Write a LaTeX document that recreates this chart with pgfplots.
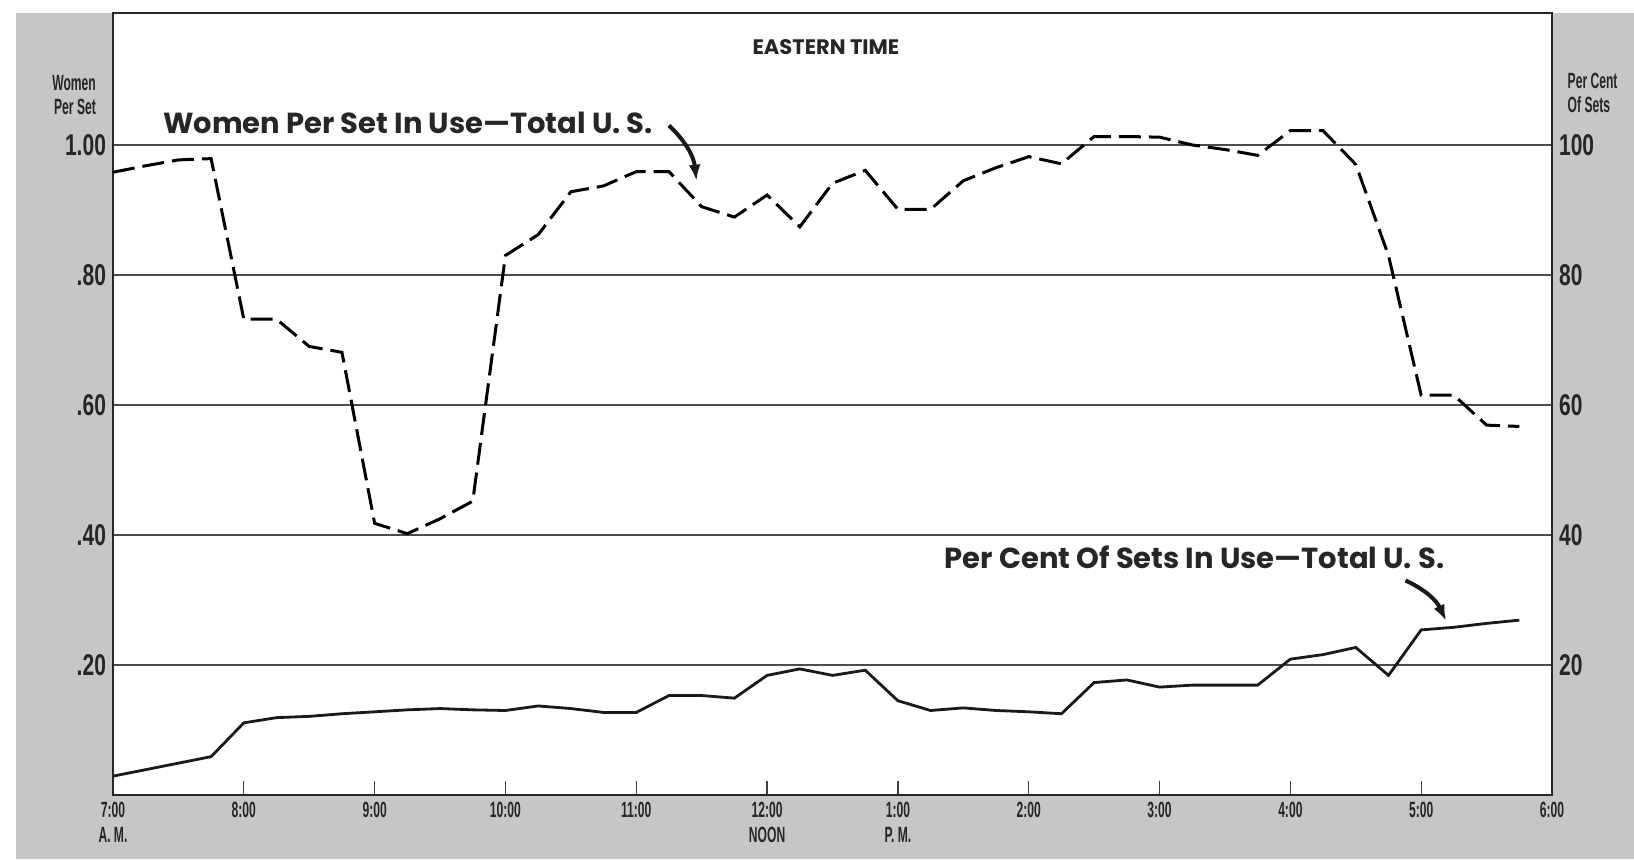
\documentclass[border=0pt]{standalone}
\usepackage{fontspec}
\setmainfont{Poppins}
\newfontfamily\tickfont[FakeStretch=0.7]{Liberation Sans}
\newfontfamily\narrowfont[FakeStretch=0.55]{Liberation Sans}
\usepackage{pgfplots}
\pgfplotsset{compat=1.18}
\usetikzlibrary{arrows.meta}

\pgfplotstableread{
t v
7.00 0.958
7.25 0.968
7.50 0.977
7.75 0.979
8.00 0.732
8.25 0.732
8.50 0.690
8.75 0.681
9.00 0.418
9.25 0.402
9.50 0.425
9.75 0.452
10.00 0.830
10.25 0.862
10.50 0.928
10.75 0.937
11.00 0.959
11.25 0.959
11.50 0.905
11.75 0.889
12.00 0.923
12.25 0.874
12.50 0.941
12.75 0.961
13.00 0.901
13.25 0.901
13.50 0.945
13.75 0.965
14.00 0.982
14.25 0.971
14.50 1.013
14.75 1.013
15.00 1.012
15.25 1.000
15.50 0.993
15.75 0.984
16.00 1.022
16.25 1.022
16.50 0.970
16.75 0.830
17.00 0.615
17.25 0.615
17.50 0.569
17.75 0.567
}\women

\pgfplotstableread{
t p
7.00 2.9
7.25 3.9
7.50 4.9
7.75 5.9
8.00 11.1
8.25 11.9
8.50 12.1
8.75 12.5
9.00 12.8
9.25 13.1
9.50 13.3
9.75 13.1
10.00 13.0
10.25 13.7
10.50 13.3
10.75 12.7
11.00 12.7
11.25 15.3
11.50 15.3
11.75 14.9
12.00 18.4
12.25 19.4
12.50 18.4
12.75 19.2
13.00 14.5
13.25 13.0
13.50 13.4
13.75 13.0
14.00 12.8
14.25 12.5
14.50 17.3
14.75 17.7
15.00 16.6
15.25 16.9
15.50 16.9
15.75 16.9
16.00 20.9
16.25 21.6
16.50 22.7
16.75 18.4
17.00 25.4
17.25 25.8
17.50 26.4
17.75 26.9
}\sets

\begin{document}
\begin{tikzpicture}
\path[use as bounding box] (0,0) rectangle (817pt,429.5pt);
\fill[gray!45] (8pt,0) rectangle (817pt,423pt);
\begin{axis}[
  at={(56.5pt,32pt)}, anchor=south west,
  scale only axis, width=719.5pt, height=391pt,
  xmin=7, xmax=18, ymin=0, ymax=1.203,
  axis background/.style={fill=white},
  axis line style={draw=black!85, line width=1pt},
  xtick={7,...,18},
  xticklabels={{7:00\\A. M.},8:00,9:00,10:00,11:00,{12:00\\NOON},{1:00\\P. M.},2:00,3:00,4:00,5:00,6:00},
  xticklabel style={align=center, font=\narrowfont\bfseries\fontsize{11}{12.5}\selectfont, text=black!85},
  xtick pos=bottom, tick align=inside, major tick length=7pt,
  x tick style={draw=black!75, line width=0.6pt},
  ytick={0.2,0.4,0.6,0.8,1.0},
  yticklabels={.20,.40,.60,.80,1.00},
  ytick pos=left, y tick style={draw=none},
  yticklabel style={font=\tickfont\bfseries\fontsize{15}{15}\selectfont, text=black!85},
  ymajorgrids, grid style={black!70, line width=0.9pt},
  clip=false,
]
\addplot[black, line width=1.5pt, dash pattern=on 11pt off 4pt] table[x=t, y=v] {\women};
\node[font=\bfseries\fontsize{14.5}{16}\selectfont, text=black!85] at (axis cs:9.255,1.034) {Women Per Set In Use—Total U. S.};
\node[font=\bfseries\fontsize{14.5}{16}\selectfont, text=black!85] at (axis cs:15.267,0.366) {Per Cent Of Sets In Use—Total U. S.};
\node[font=\bfseries\fontsize{10.5}{12}\selectfont, text=black!85] at (axis cs:12.45,1.151) {EASTERN TIME};
\draw[-{Latex[length=8pt,width=6pt]}, line width=2pt, black!90] (axis cs:11.25,1.03) to[bend left=20] (axis cs:11.46,0.945);
\draw[-{Latex[length=8pt,width=6pt]}, line width=2pt, black!90] (axis cs:16.88,0.33) to[bend left=20] (axis cs:17.19,0.268);
\node[font=\narrowfont\bfseries\fontsize{11}{12}\selectfont, align=right, anchor=east, text=black!85] at (rel axis cs:-0.007,0.895) {Women\\Per Set};
\node[font=\narrowfont\bfseries\fontsize{11}{12}\selectfont, align=left, anchor=west, text=black!85] at (rel axis cs:1.006,0.898) {Per Cent\\Of Sets};
\end{axis}
\begin{axis}[
  at={(56.5pt,32pt)}, anchor=south west,
  scale only axis, width=719.5pt, height=391pt,
  xmin=7, xmax=18, ymin=0, ymax=120.3,
  hide x axis, axis y line*=right,
  axis line style={draw=black!85, line width=1pt},
  ytick={20,40,60,80,100},
  y tick style={draw=none},
  yticklabel style={font=\tickfont\bfseries\fontsize{15}{15}\selectfont, text=black!85},
  /pgf/number format/assume math mode=true,
]
\addplot[black!90, line width=1.4pt] table[x=t, y=p] {\sets};
\end{axis}
\end{tikzpicture}
\end{document}
